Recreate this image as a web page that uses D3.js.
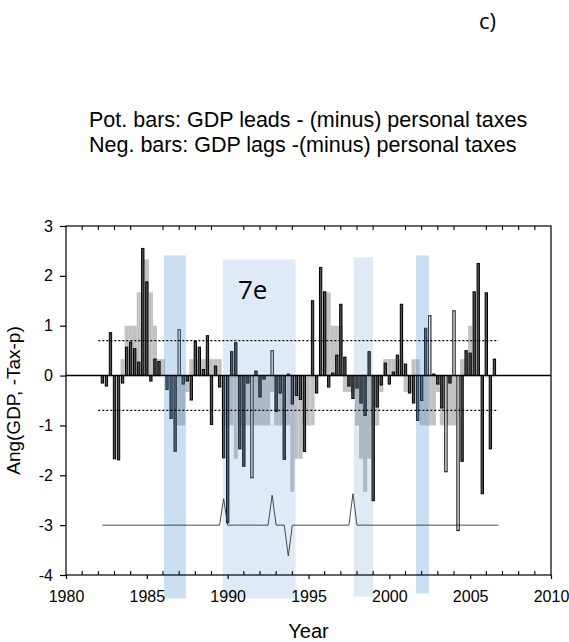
<!DOCTYPE html>
<html>
<head>
<meta charset="utf-8">
<script src="https://cdn.jsdelivr.net/npm/d3@7"></script>
<style>
  body { margin: 0; background: #fff; }
  svg { display: block; }
</style>
</head>
<body>
<script>
// Quarterly observations (decimal year of each quarter)
const quarterYears = [
  1982.25,1982.5,1982.75,1983,1983.25,1983.5,1983.75,1984,1984.25,1984.5,
  1984.75,1985,1985.25,1985.5,1985.75,1986,1986.25,1986.5,1986.75,1987,
  1987.25,1987.5,1987.75,1988,1988.25,1988.5,1988.75,1989,1989.25,1989.5,
  1989.75,1990,1990.25,1990.5,1990.75,1991,1991.25,1991.5,1991.75,1992,
  1992.25,1992.5,1992.75,1993,1993.25,1993.5,1993.75,1994,1994.25,1994.5,
  1994.75,1995,1995.25,1995.5,1995.75,1996,1996.25,1996.5,1996.75,1997,
  1997.25,1997.5,1997.75,1998,1998.25,1998.5,1998.75,1999,1999.25,1999.5,
  1999.75,2000,2000.25,2000.5,2000.75,2001,2001.25,2001.5,2001.75,2002,
  2002.25,2002.5,2002.75,2003,2003.25,2003.5,2003.75,2004,2004.25,2004.5,
  2004.75,2005,2005.25,2005.5,2005.75,2006,2006.25,2006.5,2006.75
];

// Angle (GDP, -personal taxes), quarterly bars
const angleValues = [
  -0.15,-0.21,0.86,-1.67,-1.69,-0.15,0.57,0.67,0.54,0.27,
  2.55,1.88,-0.11,0.33,0.28,0,-0.28,-0.86,-1.52,0.92,
  -0.17,-0.11,-0.49,0.69,0.57,0.12,0.80,-0.98,0.19,-0.23,
  -1.65,-2.95,0.48,0.66,-1.47,-1.82,-0.15,-2.05,0.09,-0.43,
  -0.07,0,0.50,-0.72,-0.35,-1.68,0.03,-0.57,-0.40,-0.48,
  -1.52,0,1.50,-0.35,2.17,1.68,-0.23,0.05,0.41,1.43,
  0.37,-0.21,-0.46,-0.25,-0.55,-0.80,0.48,-2.51,-0.63,-0.19,
  0.25,-0.17,0.07,0.41,1.43,0.23,-0.35,-0.55,-0.90,-0.50,
  0.95,1.20,0.03,-0.17,-0.65,-1.93,-0.15,1.30,-3.11,-1.72,
  0.50,0.45,1.68,2.25,-2.37,1.66,-1.47,0.33
];

// Quarters whose bars are drawn open (white fill)
const openQuarters = [1987, 1991.5, 1992.75, 2002.5, 2003.5, 2004, 2004.25];

// Smoothed (binned) angle, drawn as light grey steps behind the bars
const smoothValues = [
  0,0,0,0,0,0.33,1,1,1,1.67,
  2.33,2.33,1.67,1,0.33,0.33,0,0,-1,-1,
  -1,-0.33,0.33,0.33,0.33,0.33,0.33,0.33,0.33,0.33,
  -1,-1,-1,-1.67,-1,-1,-1,-1,-1,-1,
  -1,-1,-0.33,-1,-1,-1,-1,-2.33,-1.67,-1.67,
  -1,-1,-1,0,0,1.67,1.67,1,1,1,
  -0.33,-0.33,-0.33,-1,-1.67,-2.33,-1.67,-1,-1,-0.33,
  0.33,0.33,0.33,0.33,0.33,-0.33,-0.33,0.33,0.33,-1,
  -1,-1,-1,-0.33,-1,-1,-1,-1,0,0.33,
  0.33,1,0,0,0,0,0,0
];

// Event indicator line around -3
const eventValues = [
  -3,-3,-3,-3,-3,-3,-3,-3,-3,-3,
  -3,-3,-3,-3,-3,-3,-3,-3,-3,-3,
  -3,-3,-3,-3,-3,-3,-3,-3,-3,-3,
  -2.47,-3,-3,-3,-3,-3,-3,-3,-3,-3,
  -3,-3,-2.40,-3,-3,-3,-3.62,-3,-3,-3,
  -3,-3,-3,-3,-3,-3,-3,-3,-3,-3,
  -3,-3,-2.37,-3,-3,-3,-3,-3,-3,-3,
  -3,-3,-3,-3,-3,-3,-3,-3,-3,-3,
  -3,-3,-3,-3,-3,-3,-3,-3,-3,-3,
  -3,-3,-3,-3,-3,-3,-3,-3,-3
];

// Dotted significance thresholds
const thresholds = [0.7, -0.7];
const thresholdSpan = [1982, 2006.75];

// Shaded periods
const periodStart  = [1986.06, 1989.7, 1997.8, 2001.65];
const periodEnd    = [1987.42, 1994.2, 1999.0, 2002.45];
const periodTop    = [2.41, 2.33, 2.37, 2.41];
const periodBottom = [-4.47, -4.47, -4.43, -4.37];
const periodTone   = ["mid", "light", "light", "mid"];

const yearTicks = [1980, 1985, 1990, 1995, 2000, 2005, 2010];
const valueTicks = [-4, -3, -2, -1, 0, 1, 2, 3];

const W = 569, H = 642;
const svg = d3.select("body").append("svg").attr("width", W).attr("height", H);
const sans = "'Liberation Sans', Arial, sans-serif";

const x = d3.scaleLinear().domain([1980, 2010]).range([66, 551]);
const y = d3.scaleLinear().domain([-4, 3]).range([575, 226]);
const qw = x(1980.25) - x(1980);

// Grey smoothed steps
svg.append("g").selectAll("rect")
  .data(quarterYears.slice(0, smoothValues.length).map((t, i) => ({ t, v: smoothValues[i] })))
  .join("rect")
  .attr("x", d => x(d.t) - qw / 2)
  .attr("width", qw + 0.05)
  .attr("y", d => y(Math.max(0, d.v)))
  .attr("height", d => Math.abs(y(d.v) - y(0)))
  .attr("fill", "#c2c2c2");

// Quarterly bars
const bw = qw * 0.82 - 1;
svg.append("g").selectAll("rect")
  .data(quarterYears.slice(0, angleValues.length).map((t, i) => ({ t, v: angleValues[i] })).filter(d => d.v !== 0))
  .join("rect")
  .attr("x", d => x(d.t) - bw / 2)
  .attr("width", bw)
  .attr("y", d => y(Math.max(0, d.v)))
  .attr("height", d => Math.abs(y(d.v) - y(0)))
  .attr("fill", d => openQuarters.includes(d.t) ? "#ffffff" : "#505050")
  .attr("stroke", "#000")
  .attr("stroke-width", 1);

// Shaded periods (translucent, over the bars)
svg.append("g").selectAll("rect")
  .data(periodStart.map((s, i) => ({ s, e: periodEnd[i], top: periodTop[i], bot: periodBottom[i], tone: periodTone[i] })))
  .join("rect")
  .attr("x", d => x(d.s))
  .attr("width", d => x(d.e) - x(d.s))
  .attr("y", d => y(d.top))
  .attr("height", d => y(d.bot) - y(d.top))
  .attr("fill", "rgb(91,155,213)")
  .attr("fill-opacity", d => d.tone === "mid" ? 0.32 : 0.2);

// Threshold lines
svg.append("g").selectAll("line")
  .data(thresholds)
  .join("line")
  .attr("x1", x(thresholdSpan[0])).attr("x2", x(thresholdSpan[1]))
  .attr("y1", d => y(d)).attr("y2", d => y(d))
  .attr("stroke", "#000").attr("stroke-width", 1.2)
  .attr("stroke-dasharray", "2,2");

// Zero line
svg.append("line")
  .attr("x1", x(1980)).attr("x2", x(2010))
  .attr("y1", y(0)).attr("y2", y(0))
  .attr("stroke", "#000").attr("stroke-width", 1.4);

// Event line
svg.append("path")
  .datum(quarterYears.map((t, i) => [t, eventValues[i]]))
  .attr("d", d3.line().x(d => x(d[0])).y(d => y(d[1])))
  .attr("fill", "none")
  .attr("stroke", "#2a2a2a")
  .attr("stroke-width", 0.85);

// Frame
svg.append("rect")
  .attr("x", x(1980)).attr("y", y(3))
  .attr("width", x(2010) - x(1980)).attr("height", y(-4) - y(3))
  .attr("fill", "none").attr("stroke", "#000").attr("stroke-width", 1.2);

// Axes
const minorYears = x.ticks(30).filter(v => v % 5 !== 0);
const gx = svg.append("g").attr("transform", `translate(0,${y(-4)})`)
  .call(d3.axisBottom(x).tickValues(yearTicks).tickSize(4).tickPadding(12).tickFormat(d => String(d)));
gx.select(".domain").remove();
gx.selectAll("line").attr("stroke-width", 1.2);
gx.selectAll("text").attr("font-family", sans).attr("font-size", 16).attr("fill", "#000");

svg.append("g").selectAll("line")
  .data(minorYears)
  .join("line")
  .attr("x1", d => x(d)).attr("x2", d => x(d))
  .attr("y1", y(-4)).attr("y2", y(-4) - 4)
  .attr("stroke", "#000").attr("stroke-width", 1.1);
svg.append("g").selectAll("line")
  .data(minorYears)
  .join("line")
  .attr("x1", d => x(d)).attr("x2", d => x(d))
  .attr("y1", y(3)).attr("y2", y(3) + 4)
  .attr("stroke", "#000").attr("stroke-width", 1.1);

// Value axis labels use a plain hyphen for negatives
const gy = svg.append("g").attr("transform", `translate(${x(1980)},0)`)
  .call(d3.axisLeft(y).tickValues(valueTicks).tickSize(6).tickPadding(7).tickFormat(d => String(d)));
gy.select(".domain").remove();
gy.selectAll("line").attr("stroke-width", 1.2);
gy.selectAll("text").attr("font-family", sans).attr("font-size", 16).attr("fill", "#000");

// Axis titles
svg.append("text")
  .attr("transform", `translate(20,${(y(3) + y(-4)) / 2}) rotate(-90)`)
  .attr("text-anchor", "middle")
  .attr("font-family", sans).attr("font-size", 19)
  .text("Ang(GDP, -Tax-p)");

svg.append("text")
  .attr("x", (x(1980) + x(2010)) / 2).attr("y", 638)
  .attr("text-anchor", "middle")
  .attr("font-family", sans).attr("font-size", 20)
  .text("Year");

// Heading lines
svg.append("text").attr("x", 89).attr("y", 127)
  .attr("font-family", sans).attr("font-size", 21.5)
  .text("Pot. bars: GDP leads - (minus) personal taxes");
svg.append("text").attr("x", 89).attr("y", 152)
  .attr("font-family", sans).attr("font-size", 21.5)
  .text("Neg. bars: GDP lags -(minus) personal taxes");

// Panel letter
svg.append("text").attr("x", 479).attr("y", 29)
  .attr("font-family", "'Open Sans', sans-serif").attr("font-size", 22)
  .text("c)");

// Period label
svg.append("text").attr("x", x(1990.64)).attr("y", y(1.54))
  .attr("font-family", "'Open Sans', sans-serif").attr("font-size", 26)
  .text("7e");
</script>
</body>
</html>
